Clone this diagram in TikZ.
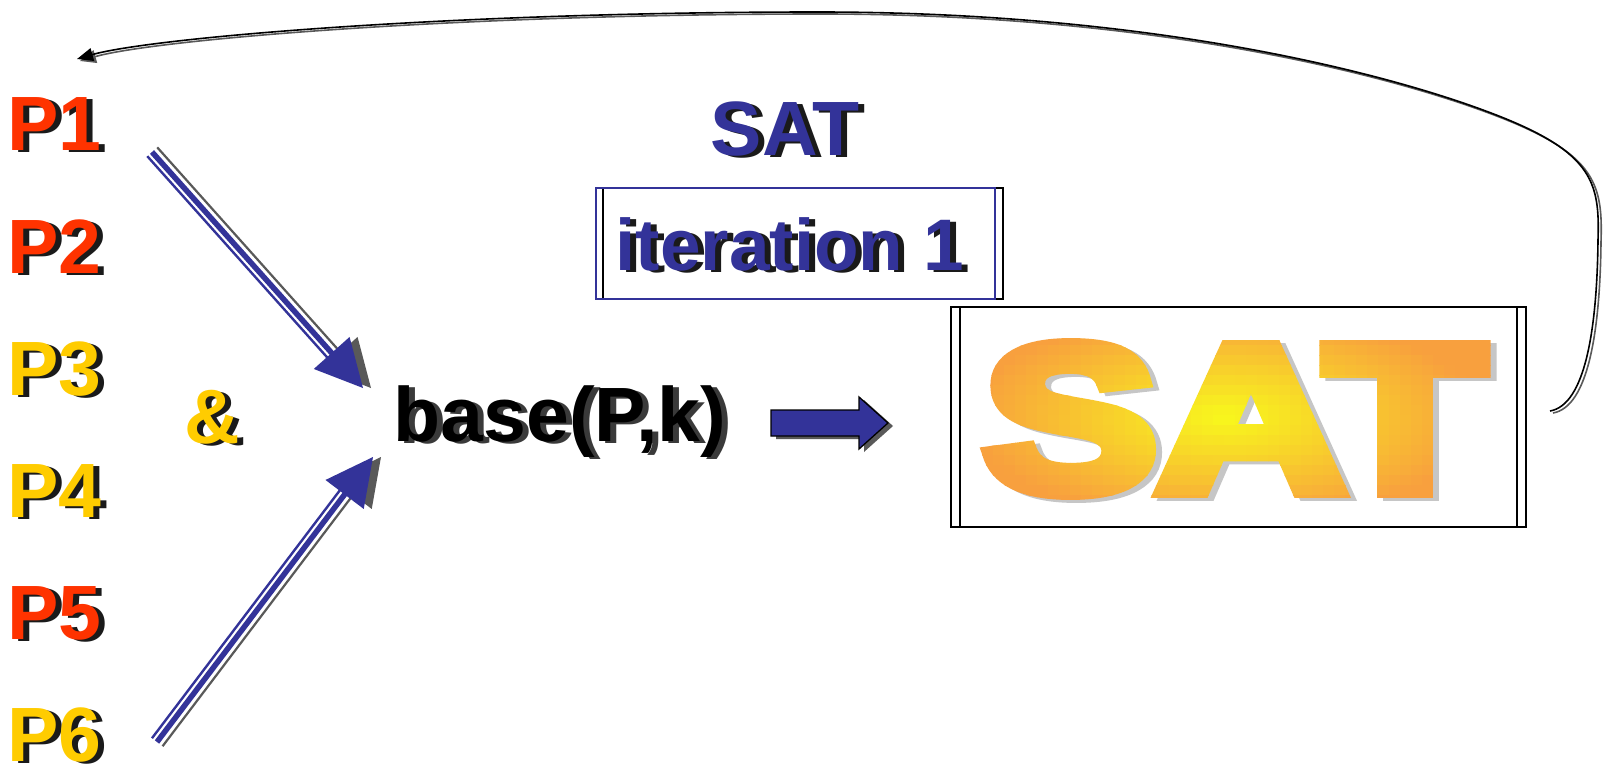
\documentclass[tikz,border=0pt]{standalone}
\usepackage{fontspec}
\setmainfont{Liberation Sans}
\newfontfamily\satheavy{Liberation Sans}[BoldFeatures={FakeBold=7}]
\usetikzlibrary{calc,arrows.meta}

\definecolor{pred}{HTML}{FF3300}
\definecolor{pyel}{HTML}{FFCC00}
\definecolor{navy}{HTML}{333399}
\definecolor{txtshadow}{HTML}{1A1A1A}
\definecolor{darkshadow}{HTML}{3A3A3A}
\definecolor{shadowgray}{HTML}{595959}
\definecolor{satyellow}{HTML}{F8F81C}
\definecolor{satorange}{HTML}{F8A03E}
\definecolor{satshade}{HTML}{C6C6C6}

\newcommand\bigfont{\fontsize{77}{80}\selectfont\bfseries}
\newcommand\iterfont{\fontsize{73}{76}\selectfont\bfseries}
\newcommand\hugefont{\satheavy\bfseries\fontsize{208}{214}\selectfont}
\newcommand\satword{\scalebox{1.25}[1]{SAT}}

\tikzset{
  lbl/.style={inner sep=0pt, font=\bigfont},
  railthick/.style={navy, line width=5.5pt},
  railthin/.style={navy, line width=2.4pt},
  railshadow/.style={shadowgray, line width=2.2pt},
  loopline/.style={line width=1.6pt, -{Triangle[length=16pt,width=13pt]}},
  frame/.style={draw, line width=1.3pt, inner sep=0pt},
  bigword/.style={inner sep=0pt, font=\hugefont},
}

% text with a drop shadow: name, anchor, position, colour, shadow colour, text
\newcommand\shtext[6]{%
  \begin{scope}[transform canvas={xshift=6pt,yshift=-2pt}]
    \node[lbl, anchor=#2, text=#5] (#1-sh) at #3 {#6};
  \end{scope}
  \node[lbl, anchor=#2, text=#4] (#1) at #3 {#6};
}

% three-rail arrow: tail, tip, side of the shadow rail, side of the thin rail
\newcommand\railarrow[4]{%
  \coordinate (#1-hb) at ($(#2)!47pt!(#1)$);
  \coordinate (#1-he) at ($(#2)!40pt!(#1)$);
  \draw[railshadow] ($(#1)!7pt!#3:(#2)$) -- ($(#1-he)!7pt!#3:(#2)$);
  \begin{scope}[transform canvas={xshift=8pt}]
    \fill[shadowgray] (#2) -- ($(#1-hb)!24pt!90:(#2)$) -- ($(#1-hb)!24pt!-90:(#2)$) -- cycle;
  \end{scope}
  \draw[railthin] ($(#1)!6.3pt!#4:(#2)$) -- ($(#1-he)!6.3pt!#4:(#2)$);
  \draw[railthick] (#1) -- (#1-he);
  \fill[navy] (#2) -- ($(#1-hb)!24pt!90:(#2)$) -- ($(#1-hb)!24pt!-90:(#2)$) -- cycle;
}

\begin{document}
\begin{tikzpicture}[x=1pt,y=-1pt]
\useasboundingbox (0,0) rectangle (1604,765);
\fill[white] (0,0) rectangle (1604,765);

% feedback loop from the solver back to the first property
\coordinate (loopstart) at (1550,411);
\coordinate (loopend) at (77,59);
\begin{scope}[transform canvas={xshift=3pt,yshift=-2pt}]
  \draw[loopline, color=shadowgray] (loopstart) .. controls (1585,405) and (1597,330) .. (1598,240)
    .. controls (1600,180) and (1592,150) .. (1483,110)
    .. controls (1380,72) and (1150,12) .. (818,12)
    .. controls (450,12) and (150,38) .. (loopend);
\end{scope}
\draw[loopline] (loopstart) .. controls (1585,405) and (1597,330) .. (1598,240)
    .. controls (1600,180) and (1592,150) .. (1483,110)
    .. controls (1380,72) and (1150,12) .. (818,12)
    .. controls (450,12) and (150,38) .. (loopend);

% properties
\shtext{p1}{base west}{(7,151)}{pred}{txtshadow}{P1}
\shtext{p2}{base west}{(7,273)}{pred}{txtshadow}{P2}
\shtext{p3}{base west}{(7,395)}{pyel}{txtshadow}{P3}
\shtext{p4}{base west}{(7,517)}{pyel}{txtshadow}{P4}
\shtext{p5}{base west}{(7,639)}{pred}{txtshadow}{P5}
\shtext{p6}{base west}{(7,761)}{pyel}{txtshadow}{P6}
\shtext{amp}{base}{(212,443)}{pyel}{txtshadow}{\&}

% base case formula
\shtext{base}{base}{(560,441)}{black}{darkshadow}{base(P,k)}

% rail arrows into the formula
\coordinate (ut) at (152,152);
\coordinate (uh) at (363,388);
\coordinate (dt) at (157,742);
\coordinate (dh) at (373,457);
\railarrow{ut}{uh}{90}{-90}
\railarrow{dt}{dh}{-90}{90}

% iteration label
\shtext{sat}{base}{(785,156)}{navy}{txtshadow}{SAT}
\node[frame, draw=black, minimum width=400pt, minimum height=111pt] (iterbox-sh) at (803,243.5) {};
\node[frame, draw=navy, minimum width=399pt, minimum height=111pt] (iterbox) at (795.5,243.5) {};
\shtext{iter}{base}{(790,270)}{navy}{txtshadow}{\iterfont iteration 1}

% block arrow to the solver
\coordinate (ra) at (771,423);
\begin{scope}[transform canvas={xshift=5pt,yshift=-3pt}]
  \fill[shadowgray] (ra) ++(0,-13) -- ++(88,0) -- ++(0,-13) -- ++(29,26) -- ++(-29,26) -- ++(0,-13) -- ++(-88,0) -- cycle;
\end{scope}
\filldraw[fill=navy, draw=black, line width=1.3pt, line join=miter]
  (ra) ++(0,-13) -- ++(88,0) -- ++(0,-13) -- ++(29,26) -- ++(-29,26) -- ++(0,-13) -- ++(-88,0) -- cycle;

% solver box
\node[frame, minimum width=566pt, minimum height=220pt] (satbox) at (1234,417) {};
\node[frame, minimum width=566pt, minimum height=220pt] (satbox2) at (1243,417) {};

% big word: grey shadow, then the word painted cell by cell in a radial yellow-orange blend
\node[bigword, text=satshade] (satword-sh) at (1240,422) {\satword};
\foreach \i in {0,...,49}{
  \foreach \j in {0,...,18}{
    \pgfmathsetmacro\cx{960+11*\i}
    \pgfmathsetmacro\cy{325+10*\j}
    \pgfmathsetmacro\gradt{min(1,veclen((\cx+5.5-1225)/255,(\cy+5-417)/105))}
    \pgfmathsetmacro\mix{100*(1-\gradt)}
    \begin{scope}
      \clip (\cx,\cy) rectangle ++(11.4,10.4);
      \node[bigword, text=satyellow!\mix!satorange] (satcell-\i-\j) at (1234,419) {\satword};
    \end{scope}
  }
}
\end{tikzpicture}
\end{document}
